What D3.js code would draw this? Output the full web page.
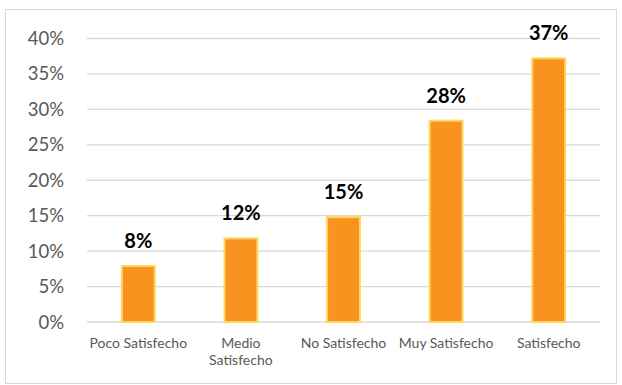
<!DOCTYPE html>
<html>
  <head>
    <style>
      body { margin: 0; background: #fff; }
      svg { font-family: Lato, "Open Sans", sans-serif; }
      .grid line { stroke: #d9d9d9; stroke-width: 1.3; }
      .bar { fill: #f7931e; stroke: #ffd55e; stroke-width: 2; }
      .bar-label { font-weight: bold; font-size: 20px; fill: #000; text-anchor: middle; }
      .y-label { font-size: 18.5px; fill: #595959; text-anchor: end; }
      .x-label { font-size: 14px; fill: #595959; text-anchor: middle; }
    </style>
  </head>
  <body>
    <script src="https://d3js.org/d3.v7.min.js"></script>
    <script>
      const categories = ['Poco Satisfecho', 'Medio|Satisfecho', 'No Satisfecho', 'Muy Satisfecho', 'Satisfecho'];
      const values = [0.079, 0.118, 0.148, 0.284, 0.372];
      const labels = ['8%', '12%', '15%', '28%', '37%'];
      const ticks = [0, 0.05, 0.10, 0.15, 0.20, 0.25, 0.30, 0.35, 0.40];

      const width = 622, height = 385;
      const plotLeft = 87, plotRight = 600, plotTop = 38.5, plotBottom = 322;

      const svg = d3.select('body').append('svg')
        .attr('width', width)
        .attr('height', height);

      svg.append('rect')
        .attr('x', 5.5).attr('y', 9.5)
        .attr('width', 611).attr('height', 374)
        .attr('fill', '#fff')
        .attr('stroke', '#d9d9d9');

      const x = d3.scaleBand()
        .domain(categories)
        .range([plotLeft, plotRight])
        .paddingInner(0.68)
        .paddingOuter(0.34);

      const y = d3.scaleLinear()
        .domain([0, 0.4])
        .range([plotBottom, plotTop]);

      svg.append('g')
        .attr('class', 'grid')
        .selectAll('line')
        .data(ticks)
        .join('line')
        .attr('x1', plotLeft).attr('x2', plotRight)
        .attr('y1', d => y(d)).attr('y2', d => y(d));

      svg.append('g')
        .selectAll('text')
        .data(ticks)
        .join('text')
        .attr('class', 'y-label')
        .attr('x', 64)
        .attr('y', d => y(d) + 6.5)
        .text(d => d3.format('.0%')(d));

      svg.append('g')
        .selectAll('rect')
        .data(values)
        .join('rect')
        .attr('class', 'bar')
        .attr('x', (d, i) => x(categories[i]))
        .attr('width', x.bandwidth())
        .attr('y', d => y(d))
        .attr('height', d => plotBottom - y(d));

      svg.append('g')
        .selectAll('text')
        .data(values)
        .join('text')
        .attr('class', 'bar-label')
        .attr('x', (d, i) => x(categories[i]) + x.bandwidth() / 2)
        .attr('y', d => y(d) - 18)
        .text((d, i) => labels[i]);

      const xl = svg.append('g')
        .selectAll('text')
        .data(categories)
        .join('text')
        .attr('class', 'x-label')
        .attr('x', d => x(d) + x.bandwidth() / 2)
        .attr('y', 348);
      xl.selectAll('tspan')
        .data(d => d.split('|').map(t => [t, d]))
        .join('tspan')
        .attr('x', d => x(d[1]) + x.bandwidth() / 2)
        .attr('dy', (d, i) => i === 0 ? 0 : 17)
        .text(d => d[0]);
    </script>
  </body>
</html>
